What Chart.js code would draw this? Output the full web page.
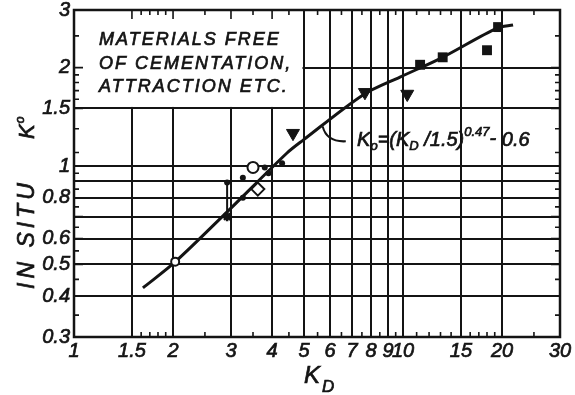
<!DOCTYPE html>
<html>
<head>
<meta charset="utf-8">
<script src="https://cdn.jsdelivr.net/npm/chart.js@4.4.0/dist/chart.umd.min.js"></script>
<style>
  html, body { margin: 0; padding: 0; background: #fff; }
</style>
</head>
<body>
<canvas id="c" width="575" height="395"></canvas>
<script>
const FONT = '"Liberation Sans", Arial, sans-serif';
const INK = "#141414";

// axes
const xTickValues = [1, 1.5, 2, 3, 4, 5, 6, 7, 8, 9, 10, 15, 20, 30];
const xTickLabels = ["1", "1.5", "2", "3", "4", "5", "6", "7", "8", "9", "10", "15", "20", "30"];
const xGridValues = [1.5, 2, 3, 4, 5, 6, 7, 8, 9, 10, 15, 20];
const xMinorTicks = [1.6, 1.7, 1.8, 1.9, 2.5, 3.5, 4.5, 5.5, 6.5, 7.5, 8.5, 9.5, 11, 12, 13, 14, 16, 17, 18, 19, 25];

const yTickValues = [0.3, 0.4, 0.5, 0.6, 0.7, 0.8, 0.9, 1, 1.5, 2, 3];
const yTickLabels = ["0.3", "0.4", "0.5", "0.6", "", "0.8", "", "1", "1.5", "2", "3"];
const yGridValues = [0.4, 0.5, 0.6, 0.7, 0.8, 0.9, 1, 1.5, 2];
const yMinorTicks = [0.35, 0.45, 0.55, 0.65, 0.75, 0.85, 0.95, 1.1, 1.3, 1.6, 1.7, 1.8, 1.9, 2.5];

// fitted curve
const curveKD = [1.62, 2.03, 2.92, 4.44, 4.97, 7.56, 9.79, 13.2, 19.3, 21.6];
const curveK0 = [0.424, 0.509, 0.724, 1.096, 1.2, 1.65, 1.87, 2.15, 2.64, 2.7];

// measured points
const openCircleKD = [2.03, 3.5];
const openCircleK0 = [0.51, 0.99];
const dotKD = [2.92, 3.26, 3.26, 3.8, 3.9, 4.29];
const dotK0 = [0.89, 0.92, 0.8, 0.99, 0.95, 1.02];
const starKD = [2.92];
const starK0 = [0.7];
const rangeKD = [2.92, 2.92];
const rangeK0 = [0.89, 0.7];
const diamondKD = [3.62];
const diamondK0 = [0.85];
const triangleKD = [4.63, 7.66, 10.3];
const triangleK0 = [1.26, 1.68, 1.66];
const squareKD = [11.27, 13.2, 18.0, 19.45];
const squareK0 = [2.04, 2.15, 2.26, 2.66];

const boxLines = ["MATERIALS FREE", "OF CEMENTATION,", "ATTRACTION ETC."];
// where the equation label sits (data coords)
const leaderFrom = [5.7, 1.32];
const leaderTo = [6.7, 1.19];
const formulaAt = [7.25, 1.15];

const pts = (xs, ys) => xs.map((v, i) => ({ x: v, y: ys[i] }));

// filled + thin stroke, to get the heavier lettering of the print
function ink(ctx, t, x, y) {
  ctx.fillText(t, x, y);
  ctx.strokeText(t, x, y);
}

const decor = {
  id: "decor",
  beforeDatasetsDraw(chart) {
    const { ctx, chartArea: a, scales: { x, y } } = chart;
    ctx.save();
    // the text box is cut out of the grid
    const bx = x.getPixelForValue(5);
    const by = y.getPixelForValue(1.5);
    ctx.fillStyle = "#fff";
    ctx.fillRect(a.left, a.top, bx - a.left - 1.5, by - a.top - 1.5);

    // inward ticks on all four sides
    ctx.strokeStyle = INK;
    ctx.lineWidth = 1.6;
    ctx.beginPath();
    const xt = (vals, len) => vals.forEach(v => {
      const p = x.getPixelForValue(v);
      ctx.moveTo(p, a.bottom); ctx.lineTo(p, a.bottom - len);
      ctx.moveTo(p, a.top); ctx.lineTo(p, a.top + len);
    });
    const yt = (vals, len) => vals.forEach(v => {
      const p = y.getPixelForValue(v);
      ctx.moveTo(a.left, p); ctx.lineTo(a.left + len, p);
      ctx.moveTo(a.right, p); ctx.lineTo(a.right - len, p);
    });
    xt(xMinorTicks, 5); xt(xGridValues, 9);
    yt(yMinorTicks, 5); yt(yGridValues, 9);
    ctx.stroke();

    ctx.lineWidth = 2.5;
    ctx.strokeRect(a.left, a.top, a.right - a.left, a.bottom - a.top);

    ctx.fillStyle = INK;
    ctx.lineWidth = 0.7;
    ctx.font = "italic 18px " + FONT;
    ctx.letterSpacing = "2px";
    ctx.textBaseline = "alphabetic";
    ctx.textAlign = "left";
    boxLines.forEach((t, i) => ink(ctx, t, a.left + 25, a.top + 35 + i * 23.5));
    ctx.restore();
  },
  afterDraw(chart) {
    const { ctx, scales: { x, y } } = chart;
    ctx.save();
    ctx.fillStyle = INK;
    ctx.strokeStyle = INK;
    ctx.textBaseline = "alphabetic";
    ctx.textAlign = "left";

    // leader from the curve to the equation
    const fx = x.getPixelForValue(leaderFrom[0]), fy = y.getPixelForValue(leaderFrom[1]);
    const tx = x.getPixelForValue(leaderTo[0]), ty = y.getPixelForValue(leaderTo[1]);
    ctx.lineWidth = 2;
    ctx.beginPath();
    ctx.moveTo(fx, fy);
    ctx.quadraticCurveTo(fx + 4, ty + 1, tx, ty);
    ctx.stroke();

    // equation
    ctx.lineWidth = 0.7;
    const seg = [["K", 20, 0], ["o", 13, 4], ["=(", 20, 0], ["K", 20, 0], ["D", 13, 4],
                 [" /1.5)", 20, 0], ["0.47", 13, -10], ["-", 20, -1], [" 0.6", 20, 0]];
    let px = x.getPixelForValue(formulaAt[0]);
    const base = y.getPixelForValue(formulaAt[1]);
    seg.forEach(([t, s, dy]) => {
      ctx.font = "italic " + s + "px " + FONT;
      ink(ctx, t, px, base + dy);
      px += ctx.measureText(t).width;
    });

    // x title
    ctx.font = "italic 24px " + FONT;
    ink(ctx, "K", 304, 383);
    const kw = ctx.measureText("K").width;
    ctx.font = "italic 17px " + FONT;
    ink(ctx, "D", 304 + kw + 2, 392);

    // y title, rotated
    ctx.save();
    ctx.translate(34, 289);
    ctx.rotate(-Math.PI / 2);
    ctx.font = "italic 23px " + FONT;
    ctx.letterSpacing = "4px";
    ink(ctx, "IN SITU", 0, 0);
    ctx.restore();

    ctx.save();
    ctx.translate(34, 139);
    ctx.rotate(-Math.PI / 2);
    ctx.font = "italic 22px " + FONT;
    ink(ctx, "K", 0, 0);
    const kw2 = ctx.measureText("K").width;
    ctx.font = "italic 12px " + FONT;
    ink(ctx, "o", kw2 + 1, -10);
    ctx.restore();

    ctx.restore();
  }
};

new Chart(document.getElementById("c"), {
  type: "scatter",
  data: {
    datasets: [
      { data: pts(squareKD, squareK0), pointStyle: "rect", pointRadius: 7,
        backgroundColor: INK, borderColor: INK, borderWidth: 0 },
      { data: pts(triangleKD, triangleK0), pointStyle: "triangle", rotation: 180, pointRadius: 7.5,
        backgroundColor: INK, borderColor: INK, borderWidth: 1 },
      { data: pts(openCircleKD, openCircleK0), pointStyle: "circle", pointRadius: [4, 5.5],
        backgroundColor: "#fff", borderColor: INK, borderWidth: 2 },
      { data: pts(diamondKD, diamondK0), pointStyle: "rectRot", pointRadius: 6.5,
        backgroundColor: "#fff", borderColor: INK, borderWidth: 2 },
      { data: pts(dotKD, dotK0), pointStyle: "circle", pointRadius: 3,
        backgroundColor: INK, borderColor: INK, borderWidth: 0 },
      { data: pts(starKD, starK0), pointStyle: "star", pointRadius: 4.5,
        backgroundColor: INK, borderColor: INK, borderWidth: 2.5 },
      { data: pts(rangeKD, rangeK0), showLine: true, pointRadius: 0,
        borderColor: INK, borderWidth: 2 },
      { data: pts(curveKD, curveK0), showLine: true, pointRadius: 0, tension: 0.3,
        borderColor: INK, borderWidth: 3 }
    ]
  },
  options: {
    responsive: false,
    animation: false,
    events: [],
    layout: { padding: { top: 10, right: 15, left: 0, bottom: 0 } },
    plugins: { legend: { display: false }, tooltip: { enabled: false } },
    scales: {
      x: {
        type: "logarithmic",
        min: 1,
        max: 30,
        afterBuildTicks: s => { s.ticks = xTickValues.map(v => ({ value: v })); },
        afterFit: s => { s.height = 58; s.paddingLeft = 0; s.paddingRight = 0; },
        border: { display: false },
        grid: {
          drawTicks: false,
          lineWidth: 2,
          color: c => (c.tick && xGridValues.includes(c.tick.value)) ? INK : "rgba(0,0,0,0)"
        },
        ticks: {
          autoSkip: false,
          maxRotation: 0,
          padding: 2,
          color: INK,
          textStrokeColor: INK,
          textStrokeWidth: 0.7,
          font: { family: FONT, size: 20, style: "italic" },
          callback: (v, i) => xTickLabels[i]
        }
      },
      y: {
        type: "logarithmic",
        min: 0.3,
        max: 3,
        afterBuildTicks: s => { s.ticks = yTickValues.map(v => ({ value: v })); },
        afterFit: s => { s.width = 74; s.paddingTop = 0; s.paddingBottom = 0; },
        border: { display: false },
        grid: {
          drawTicks: false,
          lineWidth: 2,
          color: c => (c.tick && yGridValues.includes(c.tick.value)) ? INK : "rgba(0,0,0,0)"
        },
        ticks: {
          autoSkip: false,
          padding: 4,
          color: INK,
          textStrokeColor: INK,
          textStrokeWidth: 0.7,
          font: { family: FONT, size: 20, style: "italic" },
          callback: (v, i) => yTickLabels[i]
        }
      }
    }
  },
  plugins: [decor]
});
</script>
</body>
</html>
